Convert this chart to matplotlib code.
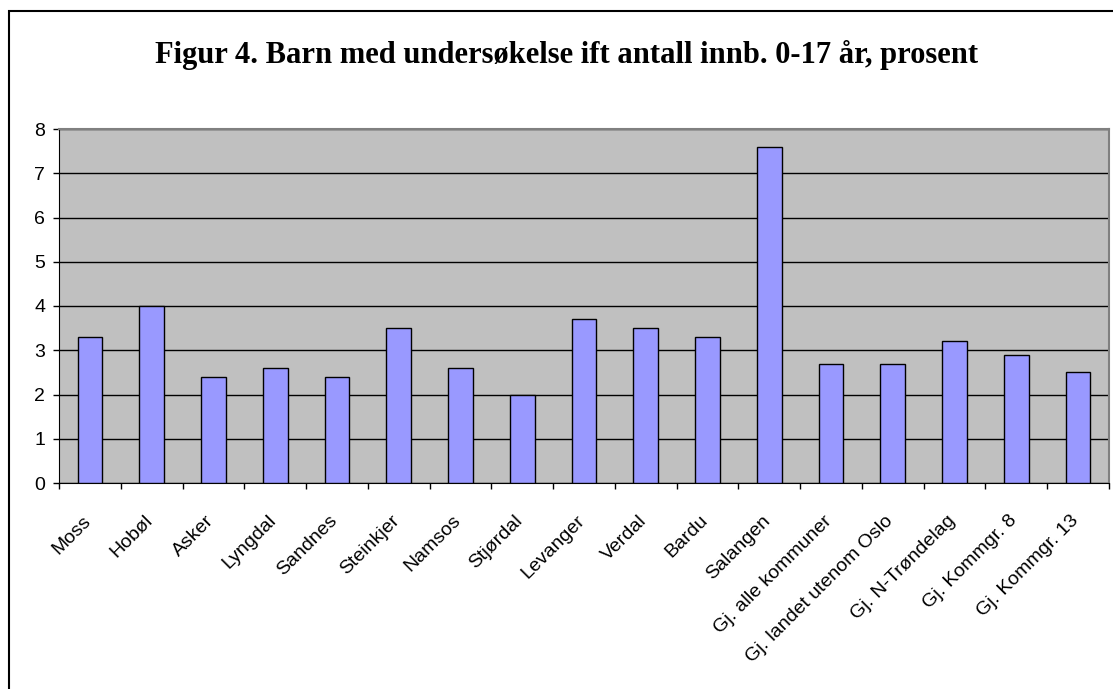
import numpy as np
import matplotlib.pyplot as plt
from matplotlib.patches import Rectangle
from matplotlib.transforms import ScaledTranslation

# Data
kommuner = ['Moss', 'Hobøl', 'Asker', 'Lyngdal', 'Sandnes', 'Steinkjer', 'Namsos',
            'Stjørdal', 'Levanger', 'Verdal', 'Bardu', 'Salangen', 'Gj. alle kommuner',
            'Gj. landet utenom Oslo', 'Gj. N-Trøndelag', 'Gj. Kommgr. 8', 'Gj. Kommgr. 13']
prosent = [3.3, 4.0, 2.4, 2.6, 2.4, 3.5, 2.6, 2.0, 3.7, 3.5, 3.3, 7.6, 2.7, 2.7, 3.2, 2.9, 2.5]
y_ticks = [0, 1, 2, 3, 4, 5, 6, 7, 8]

W, H = 1113, 689
fig = plt.figure(figsize=(W / 100, H / 100), dpi=100)
ax = fig.add_axes([59 / W, 1 - 483 / H, (1109 - 59) / W, (483 - 129) / H])

# ramme rundt figuren (venstre og topp synlig)
fig.patches.append(Rectangle((9 / W, -0.05), 1.1, 1 - 11 / H + 0.05,
                             transform=fig.transFigure, fill=False,
                             edgecolor='black', lw=1.5))

x = np.arange(len(kommuner))
ax.set_facecolor('#C0C0C0')
ax.bar(x, prosent, width=0.4, color='#9999FF', edgecolor='black', lw=1, zorder=3)

ax.set_xlim(-0.5, len(kommuner) - 0.5)
ax.set_ylim(0, 8)
ax.set_yticks(y_ticks)
ax.yaxis.grid(True, color='black', lw=1)
ax.set_axisbelow(True)

ax.set_xticks(x)
ax.set_xticklabels(kommuner, rotation=45, ha='right', va='top', rotation_mode='anchor',
                   fontsize=14, family='Liberation Sans')
ax.tick_params(axis='x', length=0, pad=21)
shift = ScaledTranslation(-8 / 100, 0, fig.dpi_scale_trans)
for lab in ax.get_xticklabels():
    lab.set_transform(lab.get_transform() + shift)
ax.set_xticks(np.arange(len(kommuner) + 1) - 0.5, minor=True)
ax.tick_params(axis='x', which='minor', length=4, width=1, direction='out')
ax.tick_params(axis='y', length=4, width=1, direction='out', labelsize=14, pad=6)
for lab in ax.get_yticklabels():
    lab.set_family('Liberation Sans')

ax.spines['top'].set_color('#808080')
ax.spines['right'].set_color('#808080')
ax.spines['top'].set_linewidth(1.5)
ax.spines['right'].set_linewidth(1.5)

fig.text(567 / W, 1 - 63 / H, 'Figur 4. Barn med undersøkelse ift antall innb. 0-17 år, prosent',
         ha='center', va='baseline', fontsize=22, fontweight='bold', family='Liberation Serif')

fig.savefig('out.png', dpi=100)
